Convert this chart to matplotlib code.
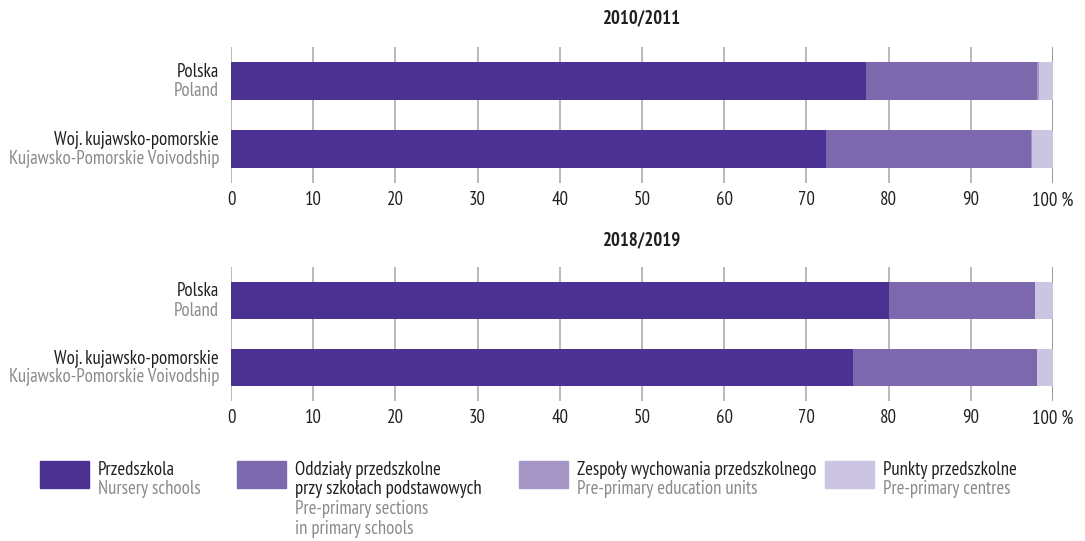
import matplotlib
matplotlib.use("Agg")
import matplotlib.pyplot as plt
from matplotlib.patches import Rectangle
from matplotlib import font_manager as fm

names = {f.name for f in fm.fontManager.ttflist}
candidates = ["PT Sans Narrow", "Roboto Condensed", "Fira Sans Condensed",
              "Open Sans Condensed", "Asap Condensed", "Archivo Narrow", "Barlow Condensed"]
main = next((c for c in candidates if c in names), "DejaVu Sans")
plt.rcParams['font.family'] = [main, "DejaVu Sans"]

# ---- data ----
years = ["2010/2011", "2018/2019"]
regions_pl = ["Polska", "Woj. kujawsko-pomorskie"]
regions_en = ["Poland", "Kujawsko-Pomorskie Voivodship"]
przedszkola = {"2010/2011": [77.2, 72.4], "2018/2019": [80.0, 75.7]}
oddzialy = {"2010/2011": [20.8, 24.9], "2018/2019": [17.8, 22.4]}
zespoly = {"2010/2011": [0.3, 0.1], "2018/2019": [0.0, 0.0]}
punkty = {"2010/2011": [1.7, 2.6], "2018/2019": [2.2, 1.9]}
tick_values = [0, 10, 20, 30, 40, 50, 60, 70, 80, 90, 100]
tick_labels = ["0", "10", "20", "30", "40", "50", "60", "70", "80", "90", "100 %"]

series_pl = [["Przedszkola"], ["Oddziały przedszkolne", "przy szkołach podstawowych"],
             ["Zespoły wychowania przedszkolnego"], ["Punkty przedszkolne"]]
series_en = [["Nursery schools"], ["Pre-primary sections", "in primary schools"],
             ["Pre-primary education units"], ["Pre-primary centres"]]
colors = ["#4a3192", "#7b68ad", "#a596c8", "#cbc5e1"]

W, H = 1085, 541
fig = plt.figure(figsize=(W / 100, H / 100), dpi=100)
BLACK = "#231f20"
GRAY = "#8a8a8a"

# fit font size so the longest label spans ~209 px, as in the reference
r = fig.canvas.get_renderer()
probe = fig.text(0, 0, regions_en[1], fontsize=12)
wpx = probe.get_window_extent(r).width
probe.remove()
FS = max(9.0, min(14.0, 12 * 209 / wpx))

def px_axes(x0, y0, x1, y1):
    return fig.add_axes([x0 / W, 1 - y1 / H, (x1 - x0) / W, (y1 - y0) / H])

panels = [(47, 183, 18), (267, 401, 240)]
for yr, (top, bot, ty) in zip(years, panels):
    ax = px_axes(231, top, 1053, bot)
    data = [przedszkola[yr], oddzialy[yr], zespoly[yr], punkty[yr]]
    left = [0.0, 0.0]
    for vals, c in zip(data, colors):
        ax.barh([0, 1], vals, left=left, height=0.56, color=c, zorder=2)
        left = [l + v for l, v in zip(left, vals)]
    ax.set_xlim(0, 100)
    ax.set_ylim(1.5, -0.5)
    for s in ax.spines.values():
        s.set_visible(False)
    ax.set_yticks([])
    ax.set_xticks(tick_values)
    ax.set_xticklabels(tick_labels, fontsize=FS, color=BLACK)
    ax.tick_params(axis='x', length=0, pad=6)
    for v in tick_values:
        ax.axvline(v, color="#b4b4b4" if v < 100 else "#909090", lw=1.3, zorder=1)
    for i in range(2):
        ax.annotate(regions_pl[i], xy=(0, i), xycoords=('axes fraction', 'data'),
                    xytext=(-12, 9), textcoords='offset pixels', ha='right', va='center',
                    fontsize=FS, color=BLACK)
        ax.annotate(regions_en[i], xy=(0, i), xycoords=('axes fraction', 'data'),
                    xytext=(-12, -10), textcoords='offset pixels', ha='right', va='center',
                    fontsize=FS, color=GRAY)
    fig.text(642 / W, 1 - ty / H, yr, ha='center', va='center', fontsize=FS,
             fontweight='bold', color=BLACK)

# ---- legend ----
leg_x = [40, 237, 519, 825]
box_w = 49
LINE = 19.5
for i in range(4):
    x = leg_x[i]
    fig.patches.append(Rectangle((x / W, 1 - 488 / H), box_w / W, 27 / H,
                                 transform=fig.transFigure, color=colors[i]))
    tx = (x + box_w + 9) / W
    lines = [(t, BLACK) for t in series_pl[i]] + [(t, GRAY) for t in series_en[i]]
    for k, (t, c) in enumerate(lines):
        fig.text(tx, 1 - (470 + LINE * k) / H, t, ha='left', va='center',
                 fontsize=FS, color=c)

fig.savefig("out.png", dpi=100)
